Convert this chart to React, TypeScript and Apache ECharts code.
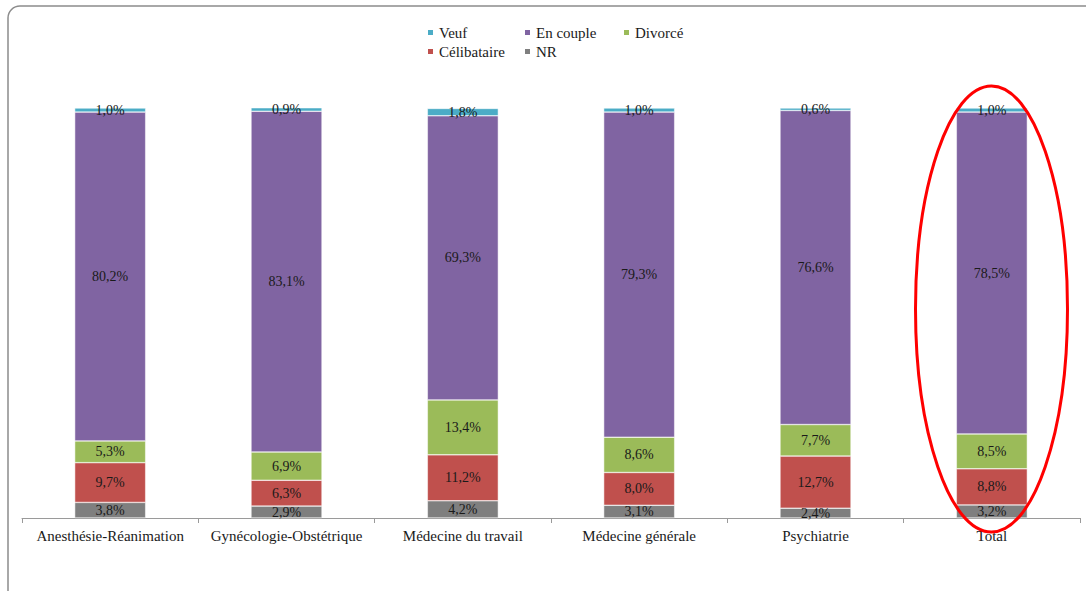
import React, { useEffect, useRef } from "react";
import * as echarts from "echarts";

const categories = [
  "Anesthésie-Réanimation",
  "Gynécologie-Obstétrique",
  "Médecine du travail",
  "Médecine générale",
  "Psychiatrie",
  "Total",
];
const nr = [3.8, 2.9, 4.2, 3.1, 2.4, 3.2];
const celibataire = [9.7, 6.3, 11.2, 8.0, 12.7, 8.8];
const divorce = [5.3, 6.9, 13.4, 8.6, 7.7, 8.5];
const enCouple = [80.2, 83.1, 69.3, 79.3, 76.6, 78.5];
const veuf = [1.0, 0.9, 1.8, 1.0, 0.6, 1.0];

const FONT = "Liberation Serif";

export default function App() {
  const ref = useRef<HTMLDivElement>(null);
  useEffect(() => {
    if (!ref.current) return;
    const chart = echarts.init(ref.current, null, { renderer: "svg" });
    const fmt = (p: any) => p.value.toFixed(1).replace(".", ",") + "%";
    const mk = (name: string, data: number[], color: string) => ({
      name,
      type: "bar",
      stack: "all",
      data,
      barWidth: 71,
      itemStyle: { color, borderColor: "#ffffff", borderWidth: 0.5 },
      label: {
        show: true,
        position: "inside",
        formatter: fmt,
        color: "#1a1a1a",
        fontFamily: FONT,
        fontSize: 14,
      },
    });
    const legendItem = (name: string, left: number, top: number) => ({
      data: [name],
      left,
      top,
      padding: 0,
      itemWidth: 7,
      itemHeight: 7,
      itemGap: 0,
      icon: "rect",
      selectedMode: false,
      textStyle: { fontFamily: FONT, fontSize: 15, color: "#1a1a1a" },
    });
    chart.setOption({
      animation: false,
      backgroundColor: "#ffffff",
      textStyle: { fontFamily: FONT },
      legend: [
        legendItem("Veuf", 426, 25),
        legendItem("En couple", 523, 25),
        legendItem("Divorcé", 622, 25),
        legendItem("Célibataire", 426, 44),
        legendItem("NR", 523, 44),
      ],
      grid: { left: 22, right: 6, top: 108, bottom: 73, containLabel: false },
      xAxis: {
        type: "category",
        data: categories,
        axisLine: { lineStyle: { color: "#9a9a9a", width: 1 } },
        axisTick: { show: true, interval: 0, length: 5, lineStyle: { color: "#9a9a9a" } },
        axisLabel: {
          interval: 0,
          fontFamily: FONT,
          fontSize: 15,
          color: "#1a1a1a",
          margin: 10,
        },
      },
      yAxis: { type: "value", min: 0, max: 100, show: false, splitLine: { show: false } },
      series: [
        mk("NR", nr, "#7F7F7F"),
        mk("Célibataire", celibataire, "#C0504D"),
        mk("Divorcé", divorce, "#9BBB59"),
        mk("En couple", enCouple, "#8064A2"),
        mk("Veuf", veuf, "#4BACC6"),
      ],
      graphic: [
        {
          type: "rect",
          shape: { x: 8, y: 6, width: 1090, height: 600, r: 12 },
          style: { fill: "none", stroke: "#8c8c8c", lineWidth: 1.5 },
          silent: true,
        },
        {
          type: "ellipse",
          shape: { cx: 991.5, cy: 309, rx: 76, ry: 223 },
          style: { fill: "none", stroke: "#ff0000", lineWidth: 3 },
          silent: true,
          z: 100,
        },
      ],
    });
    return () => chart.dispose();
  }, []);
  return (
    <div
      ref={ref}
      style={{ position: "absolute", left: 0, top: 0, width: 1086, height: 591 }}
    />
  );
}
